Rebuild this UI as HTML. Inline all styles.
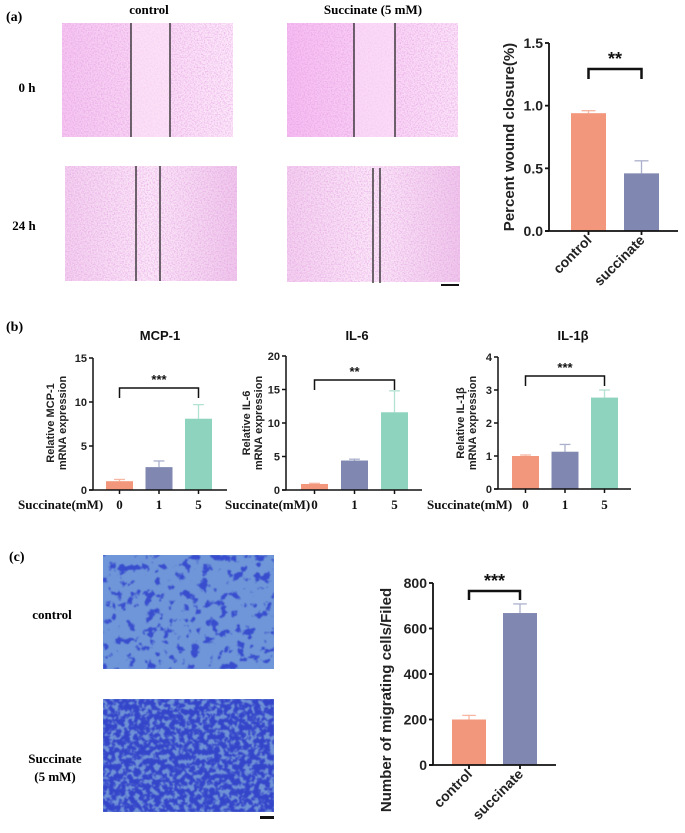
<!DOCTYPE html>
<html><head><meta charset="utf-8"><style>
html,body{margin:0;padding:0;background:#fff;width:685px;height:833px;overflow:hidden}
svg{display:block}
.ser{font-family:"Liberation Serif",serif;font-weight:bold}
.san{font-family:"Liberation Sans",sans-serif;font-weight:bold}
</style></head><body>
<svg id="fig" width="685" height="833" viewBox="0 0 685 833">
<defs>
<filter id="pinkNoise" x="0" y="0" width="1" height="1" color-interpolation-filters="sRGB">
 <feTurbulence type="fractalNoise" baseFrequency="0.7" numOctaves="2" seed="3" result="n"/>
 <feColorMatrix in="n" type="matrix" values="0 0 0 0 0.88  0 0 0 0 0.6  0 0 0 0 0.88  0 0 0 -1.5 0.9" result="c"/>
 <feComposite in="c" in2="SourceGraphic" operator="in" result="m"/>
 <feMerge><feMergeNode in="SourceGraphic"/><feMergeNode in="m"/></feMerge>
</filter>
<filter id="blueSparse" x="0" y="0" width="1" height="1" color-interpolation-filters="sRGB">
 <feTurbulence type="fractalNoise" baseFrequency="0.11" numOctaves="3" seed="7" result="n"/>
 <feColorMatrix in="n" type="matrix" values="0 0 0 0 0.18  0 0 0 0 0.25  0 0 0 0 0.8  0 0 0 -10 4.3" result="c0"/>
 <feGaussianBlur in="c0" stdDeviation="0.6" result="c1"/>
 <feComponentTransfer in="c1" result="c"><feFuncA type="linear" slope="0.85"/></feComponentTransfer>
 <feComposite in="c" in2="SourceGraphic" operator="in" result="m"/>
 <feMerge><feMergeNode in="SourceGraphic"/><feMergeNode in="m"/></feMerge>
</filter>
<filter id="blueDense" x="0" y="0" width="1" height="1" color-interpolation-filters="sRGB">
 <feTurbulence type="fractalNoise" baseFrequency="0.2" numOctaves="3" seed="11" result="n"/>
 <feColorMatrix in="n" type="matrix" values="0 0 0 0 0.17  0 0 0 0 0.22  0 0 0 0 0.78  0 0 0 -8 4.9" result="c0"/>
 <feGaussianBlur in="c0" stdDeviation="0.6" result="c1"/>
 <feComponentTransfer in="c1" result="c"><feFuncA type="linear" slope="0.85"/></feComponentTransfer>
 <feComposite in="c" in2="SourceGraphic" operator="in" result="m"/>
 <feMerge><feMergeNode in="SourceGraphic"/><feMergeNode in="m"/></feMerge>
</filter>
<linearGradient id="pk1" x1="0" x2="1"><stop offset="0" stop-color="#f6c6f1"/><stop offset="1" stop-color="#fde9fa"/></linearGradient>
<linearGradient id="pk2" x1="0" x2="1"><stop offset="0" stop-color="#f7bdf2"/><stop offset="1" stop-color="#fce4f9"/></linearGradient>
<linearGradient id="pk3" x1="0" x2="1"><stop offset="0" stop-color="#f4d0f0"/><stop offset="0.5" stop-color="#fce8f9"/><stop offset="1" stop-color="#f0c8ec"/></linearGradient>
</defs>

<!-- Panel (a) -->
<text class="ser" x="6" y="21" font-size="14">(a)</text>
<text class="ser" x="149" y="14" font-size="13" text-anchor="middle">control</text>
<text class="ser" x="373" y="14" font-size="13" text-anchor="middle">Succinate (5 mM)</text>
<text class="ser" x="27" y="92" font-size="13" text-anchor="middle">0 h</text>
<text class="ser" x="24" y="230" font-size="13" text-anchor="middle">24 h</text>

<g>
<rect x="62" y="23" width="171" height="114" fill="url(#pk1)" filter="url(#pinkNoise)"/>
<rect x="131" y="23" width="39" height="114" fill="#fde6f9" opacity="0.6"/>
<line x1="131" y1="23" x2="131" y2="137" stroke="#222" stroke-width="1.3"/><line x1="170" y1="23" x2="170" y2="137" stroke="#222" stroke-width="1.3"/></g>
<g>
<rect x="287" y="23" width="171" height="114" fill="url(#pk2)" filter="url(#pinkNoise)"/>
<rect x="354" y="23" width="41" height="114" fill="#fbe0f8" opacity="0.6"/>
<line x1="354" y1="23" x2="354" y2="137" stroke="#222" stroke-width="1.3"/><line x1="395" y1="23" x2="395" y2="137" stroke="#222" stroke-width="1.3"/></g>
<g>
<rect x="65" y="166" width="172" height="115" fill="url(#pk3)" filter="url(#pinkNoise)"/>
<line x1="136" y1="166" x2="136" y2="281" stroke="#222" stroke-width="1.3"/><line x1="160" y1="166" x2="160" y2="281" stroke="#222" stroke-width="1.3"/></g>
<g>
<rect x="287" y="166" width="173" height="116" fill="url(#pk3)" filter="url(#pinkNoise)"/>
<line x1="373" y1="168" x2="373" y2="283" stroke="#222" stroke-width="1.3"/><line x1="380" y1="168" x2="380" y2="283" stroke="#222" stroke-width="1.3"/></g>
<rect x="441" y="284" width="18" height="2" fill="#111"/>

<!-- Panel (b) -->
<text class="ser" x="6" y="331" font-size="14">(b)</text>

<!-- Panel (c) -->
<text class="ser" x="9" y="561" font-size="14">(c)</text>
<text class="ser" x="52" y="619" font-size="13" text-anchor="middle">control</text>
<text class="ser" x="55" y="763" font-size="13" text-anchor="middle">Succinate</text>
<text class="ser" x="55" y="781" font-size="13" text-anchor="middle">(5 mM)</text>
<rect x="103" y="555" width="171" height="114" fill="#6f96d8" filter="url(#blueSparse)"/>
<rect x="103" y="699" width="171" height="113" fill="#6f92d6" filter="url(#blueDense)"/>
<rect x="260" y="816" width="14" height="3" fill="#111"/>
</svg>
<script>
const NS='http://www.w3.org/2000/svg';
const fig=document.getElementById('fig');
function mk(tag,attrs,parent,text){const e=document.createElementNS(NS,tag);for(const k in attrs)e.setAttribute(k,attrs[k]);if(text!==undefined)e.textContent=text;(parent||fig).appendChild(e);return e;}

// ---- data ----
const woundCategories=['control','succinate'];
const woundValues=[0.94,0.46];
const woundErrors=[0.96,0.56];
const woundTicks=[0.0,0.5,1.0,1.5];
const woundTickLabels=['0.0','0.5','1.0','1.5'];

const doseCategories=['0','1','5'];
const mcpValues=[1.0,2.6,8.1];
const mcpErrors=[1.2,3.3,9.7];
const mcpTicks=[0,5,10,15];
const il6Values=[0.9,4.4,11.6];
const il6Errors=[1.0,4.6,14.8];
const il6Ticks=[0,5,10,15,20];
const il1Values=[1.0,1.13,2.77];
const il1Errors=[1.03,1.35,3.0];
const il1Ticks=[0,1,2,3,4];

const migCategories=['control','succinate'];
const migValues=[200,668];
const migErrors=[218,708];
const migTicks=[0,200,400,600,800];

const ORANGE='#f2977b',BLUE='#8088b2',GREEN='#8dd3bd';
const ORANGE_E='#f6b6a2',BLUE_E='#aab0cc',GREEN_E='#b3e2d3';

function barChart(o){
  const g=mk('g',{});
  
  
  const y=v=>o.y0-(v-o.min)/(o.max-o.min)*(o.y0-o.y1);
  const bx=i=>o.barStart+i*o.step;
  o.values.forEach((v,i)=>{
    const ex=bx(i)+o.bw/2;
    const el=mk('line',{x1:ex,x2:ex,y1:y(v),y2:y(o.errors[i]),stroke:o.ecolors[i],'stroke-width':1.3},g);
    
    
    const cap=mk('line',{x1:ex-o.bw*0.2,x2:ex+o.bw*0.2,y1:y(o.errors[i]),y2:y(o.errors[i]),stroke:o.ecolors[i],'stroke-width':1.3},g);
    
    
    const r=mk('rect',{x:bx(i),y:y(v),width:o.bw,height:o.y0-y(v),fill:o.colors[i]},g);
    
    
  });
  const ya=mk('line',{x1:o.x0,x2:o.x0,y1:o.y1,y2:o.y0,stroke:'#111','stroke-width':o.lw},g);
  
  
  const xa=mk('line',{x1:o.x0-4,x2:o.xEnd,y1:o.y0,y2:o.y0,stroke:'#111','stroke-width':o.lw},g);
  
  
  o.ticks.forEach((t,i)=>{
    mk('line',{x1:o.x0-4,x2:o.x0,y1:y(t),y2:y(t),stroke:'#111','stroke-width':o.lw},g);
    const tl=mk('text',{x:o.x0-6,y:y(t)+o.tf*0.36,'font-size':o.tf,'text-anchor':'end',class:'san',fill:'#222'},g,o.tickLabels?o.tickLabels[i]:String(t));
    
    
  });
  o.values.forEach((v,i)=>{
    const cx=bx(i)+o.bw/2;
    mk('line',{x1:cx,x2:cx,y1:o.y0,y2:o.y0+4,stroke:'#111','stroke-width':o.lw},g);
    let t;
    if(o.rotate){
      t=mk('text',{x:cx+4,y:o.y0+10,'font-size':o.xf,'text-anchor':'end',class:'san',fill:'#222',transform:`rotate(-45 ${cx+4} ${o.y0+10})`},g,o.cats[i]);
    } else {
      t=mk('text',{x:cx,y:o.xLabelY,'font-size':o.xf,'text-anchor':'middle',class:'ser',fill:'#111'},g,o.cats[i]);
    }
    
    
  });
  const b=o.bracket;
  const xa1=bx(b.i)+o.bw/2, xa2=bx(b.j)+o.bw/2;
  const br=mk('path',{d:`M${xa1} ${b.y+b.h}V${b.y}H${xa2}V${b.y+b.h}`,fill:'none',stroke:'#111','stroke-width':b.w},g);
  
  
  const st=mk('text',{x:(xa1+xa2)/2,y:b.y-4,'font-size':b.fs,'text-anchor':'middle',class:'san',fill:'#111'},g,b.label);
  
  
  return g;
}

// (a) wound closure
barChart({name:'wound-closure-chart',values:woundValues,errors:woundErrors,cats:woundCategories,ticks:woundTicks,tickLabels:woundTickLabels,
 min:0,max:1.5,x0:549,y0:231,y1:43,xEnd:678,barStart:571,bw:35,step:53,colors:[ORANGE,BLUE],ecolors:[ORANGE_E,BLUE_E],
 lw:1.8,tf:14,xf:14,rotate:true,bracket:{i:0,j:1,y:69,h:10,w:2.5,fs:18,label:'**'}});
let t=mk('text',{x:0,y:0,'font-size':15,class:'san','text-anchor':'middle',fill:'#222',transform:'translate(514 137) rotate(-90)'},fig,'Percent wound closure(%)');



// (b) qPCR charts
const bcharts=[
 {name:'mcp1-chart',title:'MCP-1',tx:160,vals:mcpValues,errs:mcpErrors,ticks:mcpTicks,max:15,x0:93,y0:490,y1:358,xEnd:227,bs:106,step:39.5,l1:'Relative MCP-1',ax:54,br:{y:388,s:'***'},xl:18},
 {name:'il6-chart',title:'IL-6',tx:357,vals:il6Values,errs:il6Errors,ticks:il6Ticks,max:20,x0:286,y0:490,y1:356,xEnd:422,bs:301,step:40,l1:'Relative IL-6',ax:250,br:{y:380,s:'**'},xl:225},
 {name:'il1b-chart',title:'IL-1β',tx:573,vals:il1Values,errs:il1Errors,ticks:il1Ticks,max:4,x0:498,y0:489,y1:357,xEnd:631,bs:512,step:39.5,l1:'Relative IL-1β',ax:464,br:{y:376,s:'***'},xl:427}
];
bcharts.forEach(c=>{
  barChart({name:c.name,values:c.vals,errors:c.errs,cats:doseCategories,ticks:c.ticks,min:0,max:c.max,x0:c.x0,y0:c.y0,y1:c.y1,xEnd:c.xEnd,
   barStart:c.bs,bw:27,step:c.step,colors:[ORANGE,BLUE,GREEN],ecolors:[ORANGE_E,BLUE_E,GREEN_E],lw:1.5,tf:11,xf:13,rotate:false,xLabelY:509,
   bracket:{i:0,j:2,y:c.br.y,h:10,w:1.5,fs:13,label:c.br.s}});
  let e=mk('text',{x:c.tx,y:340,'font-size':13,class:'san','text-anchor':'middle',fill:'#111'},fig,c.title);
  
  
  e=mk('text',{x:0,y:0,'font-size':11,class:'san','text-anchor':'middle',fill:'#222',transform:`translate(${c.ax} 423) rotate(-90)`},fig);
  
  
  mk('tspan',{x:0,dy:0},e,c.l1);
  mk('tspan',{x:0,dy:12},e,'mRNA expression');
  e=mk('text',{x:c.xl,y:509,'font-size':13,class:'ser',fill:'#111'},fig,'Succinate(mM)');
  
  
});

// (c) migration
barChart({name:'migration-chart',values:migValues,errors:migErrors,cats:migCategories,ticks:migTicks,
 min:0,max:800,x0:433,y0:765,y1:583,xEnd:556,barStart:452,bw:34,step:51,colors:[ORANGE,BLUE],ecolors:[ORANGE_E,BLUE_E],
 lw:1.8,tf:14,xf:14,rotate:true,bracket:{i:0,j:1,y:591,h:9,w:2.5,fs:18,label:'***'}});
t=mk('text',{x:0,y:0,'font-size':15,class:'san','text-anchor':'middle',fill:'#222',transform:'translate(391 700) rotate(-90)'},fig,'Number of migrating cells/Filed');


</script>
</body></html>
